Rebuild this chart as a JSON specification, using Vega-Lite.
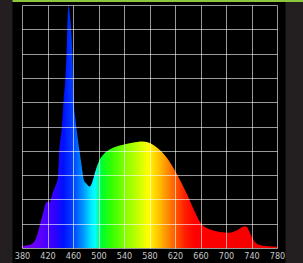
{
  "$schema": "https://vega.github.io/schema/vega-lite/v6.json",
  "width": 255,
  "height": 243,
  "autosize": {"type": "none"},
  "padding": {"left": 22, "top": 5, "right": 26, "bottom": 15},
  "background": "#000000",
  "config": {
    "view": {"stroke": null},
    "axis": {"domain": false, "ticks": false, "grid": true, "gridColor": "#ffffff", "gridOpacity": 0.6, "gridWidth": 1}
  },
  "layer": [
    {
      "data": {"values": [
        {"wl": 380, "v": 0.8}, {"wl": 390, "v": 1.2}, {"wl": 397, "v": 2.0}, {"wl": 402, "v": 4.0},
        {"wl": 406, "v": 7.4}, {"wl": 410, "v": 11.5}, {"wl": 413, "v": 14.3}, {"wl": 416, "v": 17.5},
        {"wl": 419, "v": 19.0}, {"wl": 423, "v": 18.6}, {"wl": 428, "v": 22.6}, {"wl": 433, "v": 26.0},
        {"wl": 436, "v": 28.5}, {"wl": 438.5, "v": 40.0}, {"wl": 442.7, "v": 50.5}, {"wl": 445, "v": 60.0},
        {"wl": 448, "v": 70.0}, {"wl": 449.8, "v": 80.0}, {"wl": 451, "v": 90.0}, {"wl": 453, "v": 100.0},
        {"wl": 455.5, "v": 95.0}, {"wl": 457, "v": 90.0}, {"wl": 459, "v": 80.0}, {"wl": 460, "v": 70.0},
        {"wl": 461.3, "v": 60.0}, {"wl": 464, "v": 52.7}, {"wl": 467, "v": 46.0}, {"wl": 470, "v": 40.3},
        {"wl": 474, "v": 33.0}, {"wl": 477, "v": 28.0}, {"wl": 481, "v": 26.5}, {"wl": 486, "v": 25.3},
        {"wl": 490, "v": 27.0}, {"wl": 495.6, "v": 32.0}, {"wl": 501.6, "v": 36.2}, {"wl": 507, "v": 38.3},
        {"wl": 512, "v": 39.6}, {"wl": 522, "v": 41.2}, {"wl": 537, "v": 42.4}, {"wl": 553, "v": 43.3},
        {"wl": 569, "v": 43.8}, {"wl": 577, "v": 43.5}, {"wl": 590, "v": 41.7}, {"wl": 606, "v": 37.6},
        {"wl": 622, "v": 30.9}, {"wl": 638, "v": 22.6}, {"wl": 650, "v": 15.5}, {"wl": 661, "v": 10.0},
        {"wl": 670, "v": 8.2}, {"wl": 680, "v": 7.2}, {"wl": 690, "v": 6.6}, {"wl": 705, "v": 6.3},
        {"wl": 718, "v": 7.4}, {"wl": 729, "v": 9.0}, {"wl": 733, "v": 8.6}, {"wl": 737, "v": 6.5},
        {"wl": 745, "v": 2.6}, {"wl": 753, "v": 1.2}, {"wl": 763, "v": 0.8}, {"wl": 780, "v": 0.5}
      ]},
      "mark": {
        "type": "area",
        "interpolate": "monotone",
        "color": {
          "gradient": "linear", "x1": 0, "x2": 1, "y1": 0, "y2": 0,
          "stops": [
            {"offset": 0, "color": "#7a00e6"},
            {"offset": 0.075, "color": "#5a00ff"},
            {"offset": 0.125, "color": "#3300ff"},
            {"offset": 0.1625, "color": "#0010ff"},
            {"offset": 0.2, "color": "#0040ff"},
            {"offset": 0.2375, "color": "#0090ff"},
            {"offset": 0.275, "color": "#00f0ff"},
            {"offset": 0.2875, "color": "#00ffff"},
            {"offset": 0.3125, "color": "#00ff30"},
            {"offset": 0.35, "color": "#30ff00"},
            {"offset": 0.4125, "color": "#90ff00"},
            {"offset": 0.4625, "color": "#d0ff00"},
            {"offset": 0.495, "color": "#ffff00"},
            {"offset": 0.5375, "color": "#ffc000"},
            {"offset": 0.5875, "color": "#ff7000"},
            {"offset": 0.6375, "color": "#ff2000"},
            {"offset": 0.675, "color": "#ff0000"},
            {"offset": 1, "color": "#f00000"}
          ]
        }
      },
      "encoding": {
        "x": {
          "field": "wl", "type": "quantitative",
          "scale": {"domain": [380, 780], "nice": false},
          "axis": {"title": null, "zindex": 1, "values": [380, 420, 460, 500, 540, 580, 620, 660, 700, 740, 780], "labelFlush": false, "labelOverlap": false, "labelColor": "#c8c8c8", "labelFont": "Liberation Sans Narrow, DejaVu Sans Condensed, Liberation Sans", "labelFontSize": 9, "labelPadding": 3}
        },
        "y": {
          "field": "v", "type": "quantitative",
          "scale": {"domain": [0, 100], "nice": false},
          "axis": {"title": null, "zindex": 1, "values": [0, 10, 20, 30, 40, 50, 60, 70, 80, 90, 100], "labels": false}
        }
      }
    },
    {
      "data": {"values": [{"x1": 300, "x2": 365.1}, {"x1": 793.3, "x2": 850}]},
      "mark": {"type": "rect", "color": "#231f20"},
      "encoding": {
        "x": {"field": "x1", "type": "quantitative",
          "axis": {"title": null, "zindex": 1, "values": [380, 420, 460, 500, 540, 580, 620, 660, 700, 740, 780], "labelFlush": false, "labelOverlap": false, "labelColor": "#c8c8c8", "labelFont": "Liberation Sans Narrow, DejaVu Sans Condensed, Liberation Sans", "labelFontSize": 9, "labelPadding": 3}},
        "x2": {"field": "x2"},
        "y": {"datum": -20, "type": "quantitative",
          "axis": {"title": null, "zindex": 1, "values": [0, 10, 20, 30, 40, 50, 60, 70, 80, 90, 100], "labels": false}},
        "y2": {"datum": 110}
      }
    },
    {
      "data": {"values": [{"part": "topline"}]},
      "mark": {"type": "rect", "color": "#8cc63f"},
      "encoding": {
        "x": {"datum": 365.1, "type": "quantitative",
          "axis": {"title": null, "zindex": 1, "values": [380, 420, 460, 500, 540, 580, 620, 660, 700, 740, 780], "labelFlush": false, "labelOverlap": false, "labelColor": "#c8c8c8", "labelFont": "Liberation Sans Narrow, DejaVu Sans Condensed, Liberation Sans", "labelFontSize": 9, "labelPadding": 3}},
        "x2": {"datum": 850},
        "y": {"datum": 101.23, "type": "quantitative",
          "axis": {"title": null, "zindex": 1, "values": [0, 10, 20, 30, 40, 50, 60, 70, 80, 90, 100], "labels": false}},
        "y2": {"datum": 110}
      }
    }
  ]
}
